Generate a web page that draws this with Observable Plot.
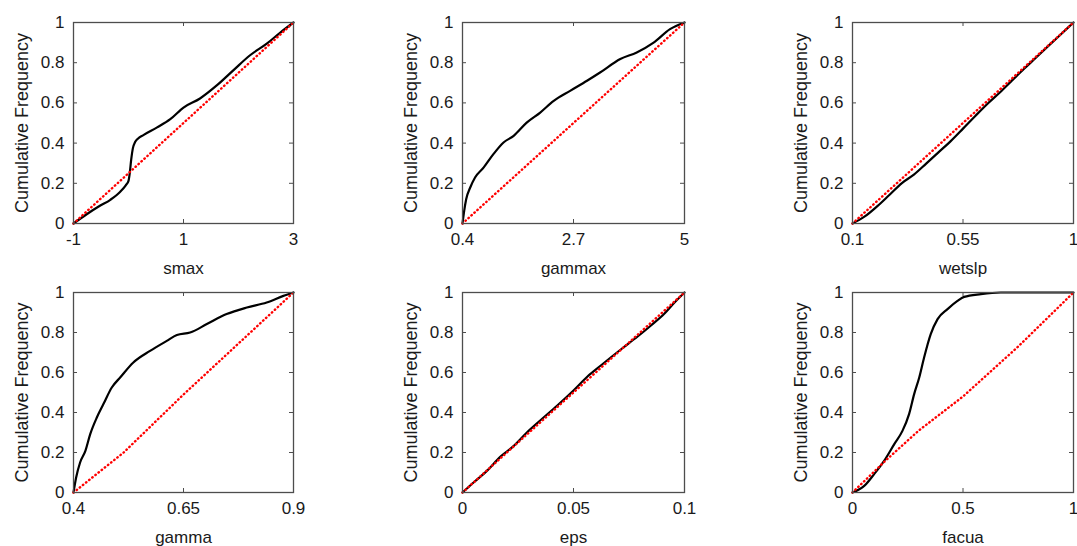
<!DOCTYPE html>
<html>
<head>
<meta charset="utf-8">
<script src="https://cdn.jsdelivr.net/npm/d3@7"></script>
<script src="https://cdn.jsdelivr.net/npm/@observablehq/plot@0.6"></script>
<style>
  html, body { margin: 0; padding: 0; background: #fff; }
  #chart { position: relative; width: 1077px; height: 546px; overflow: hidden; background: #fff; }
  #chart > div, #chart > svg { position: absolute; }
</style>
</head>
<body>
<div id="chart"></div>
<script>
// ---------- data ----------
const names = ["smax", "gammax", "wetslp", "gamma", "eps", "facua"];
const yLabel = "Cumulative Frequency";
const yTicks = [0, 0.2, 0.4, 0.6, 0.8, 1];
const xTickSets = [
  [-1, 1, 3],
  [0.4, 2.7, 5],
  [0.1, 0.55, 1],
  [0.4, 0.65, 0.9],
  [0, 0.05, 0.1],
  [0, 0.5, 1]
];

// black empirical cumulative curves [x, F]
const smaxCdf = [[-1,0],[-0.76,0.046],[-0.52,0.088],[-0.33,0.118],[-0.15,0.158],[-0.05,0.19],[0.0,0.212],[0.02,0.245],[0.05,0.32],[0.08,0.375],[0.12,0.405],[0.17,0.422],[0.27,0.44],[0.52,0.478],[0.76,0.519],[1.0,0.577],[1.3,0.622],[1.61,0.688],[1.91,0.763],[2.21,0.837],[2.52,0.896],[2.76,0.95],[3,1]];
const gammaxCdf = [[0.4,0],[0.435,0.063],[0.476,0.121],[0.56,0.179],[0.66,0.229],[0.84,0.279],[1.04,0.345],[1.25,0.403],[1.46,0.436],[1.73,0.502],[2.01,0.552],[2.29,0.61],[2.63,0.66],[2.98,0.71],[3.25,0.751],[3.67,0.818],[4.01,0.851],[4.36,0.9],[4.7,0.967],[5,1]];
const wetslpCdf = [[0.1,0],[0.15,0.035],[0.2,0.085],[0.25,0.142],[0.3,0.2],[0.35,0.243],[0.4,0.298],[0.45,0.354],[0.5,0.41],[0.55,0.472],[0.6,0.535],[0.65,0.596],[0.7,0.652],[0.75,0.712],[0.8,0.771],[0.85,0.828],[0.9,0.886],[0.95,0.943],[1,1]];
const gammaCdf = [[0.4,0],[0.406,0.075],[0.415,0.15],[0.427,0.208],[0.438,0.292],[0.453,0.375],[0.468,0.442],[0.487,0.525],[0.506,0.575],[0.536,0.65],[0.574,0.708],[0.612,0.758],[0.635,0.787],[0.665,0.8],[0.703,0.842],[0.748,0.892],[0.794,0.925],[0.839,0.95],[0.877,0.983],[0.9,1]];
const epsCdf = [[0,0],[0.005,0.05],[0.011,0.108],[0.017,0.178],[0.023,0.232],[0.029,0.3],[0.035,0.36],[0.0427,0.435],[0.05,0.51],[0.0563,0.58],[0.0623,0.635],[0.0713,0.715],[0.0789,0.78],[0.0849,0.835],[0.091,0.895],[0.0955,0.95],[0.1,1]];
const facuaCdf = [[0,0],[0.053,0.033],[0.098,0.092],[0.143,0.158],[0.189,0.242],[0.226,0.308],[0.256,0.392],[0.279,0.492],[0.302,0.575],[0.324,0.675],[0.354,0.792],[0.385,0.867],[0.43,0.917],[0.475,0.958],[0.505,0.978],[0.581,0.992],[0.671,1],[1,1]];

// red dotted reference curves [x, F]
const smaxRef = [[-1,0],[3,1]];
const gammaxRef = [[0.4,0],[5,1]];
const wetslpRef = [[0.1,0],[1,1]];
const gammaRef = [[0.4,0],[0.514,0.2],[0.65,0.49],[0.9,1]];
const epsRef = [[0,0],[0.1,1]];
const facuaRef = [[0,0],[0.15,0.16],[0.3,0.31],[0.5,0.48],[0.75,0.73],[1,1]];

const cdfs = [smaxCdf, gammaxCdf, wetslpCdf, gammaCdf, epsCdf, facuaCdf];
const refs = [smaxRef, gammaxRef, wetslpRef, gammaRef, epsRef, facuaRef];

// ---------- layout ----------
const colLeft = [73, 462, 852];
const colWidth = [220, 222, 221];
const rowTop = [22, 292];
const rowHeight = [201, 200];
const mL = 73, mT = 22, mR = 6, mB = 56;

const font = "Liberation Sans, Arial, Helvetica, sans-serif";
const frameColor = "#4d4d4d";
const textColor = "#1a1a1a";

const root = document.getElementById("chart");

names.forEach((name, i) => {
  const c = i % 3, r = Math.floor(i / 3);
  const w = colWidth[c], h = rowHeight[r];
  const xt = xTickSets[i];
  const xdom = [xt[0], xt[xt.length - 1]];
  const plot = Plot.plot({
    width: mL + w + mR,
    height: mT + h + mB,
    marginLeft: mL, marginTop: mT, marginRight: mR, marginBottom: mB,
    style: {fontFamily: font, fontSize: "17px", color: textColor, background: "transparent", overflow: "visible"},
    x: {domain: xdom},
    y: {domain: [0, 1]},
    marks: [
      Plot.axisX(xt, {tickSize: 0, tickPadding: 9, tickFormat: d => String(d), label: null, fill: textColor, fontSize: 17}),
      Plot.axisY(yTicks, {tickSize: 0, tickPadding: 9, tickFormat: d => String(d), label: null, fill: textColor, fontSize: 17}),
      // inward tick marks on all four sides
      Plot.tickX(xt, {x: d => d, insetTop: h - 4, stroke: frameColor, strokeWidth: 1}),
      Plot.tickX(xt, {x: d => d, insetBottom: h - 4, stroke: frameColor, strokeWidth: 1}),
      Plot.tickY(yTicks, {y: d => d, insetRight: w - 4, stroke: frameColor, strokeWidth: 1}),
      Plot.tickY(yTicks, {y: d => d, insetLeft: w - 4, stroke: frameColor, strokeWidth: 1}),
      Plot.line(cdfs[i], {x: d => d[0], y: d => d[1], stroke: "#000", strokeWidth: 2.2, strokeLinejoin: "round", curve: "monotone-x"}),
      Plot.line(refs[i], {x: d => d[0], y: d => d[1], stroke: "#ff0000", strokeWidth: 2.4, strokeDasharray: "0.5,3.5", strokeLinecap: "round"}),
      Plot.frame({stroke: frameColor, strokeWidth: 1.3}),
      Plot.text([name], {frameAnchor: "bottom", dy: 45, lineAnchor: "middle", textAnchor: "middle", text: d => d, fontSize: 17, fill: textColor}),
      Plot.text([yLabel], {frameAnchor: "left", dx: -51, rotate: -90, lineAnchor: "middle", textAnchor: "middle", text: d => d, fontSize: 18, fill: textColor})
    ]
  });
  plot.style.left = (colLeft[c] - mL) + "px";
  plot.style.top = (rowTop[r] - mT) + "px";
  root.appendChild(plot);
});
</script>
</body>
</html>
